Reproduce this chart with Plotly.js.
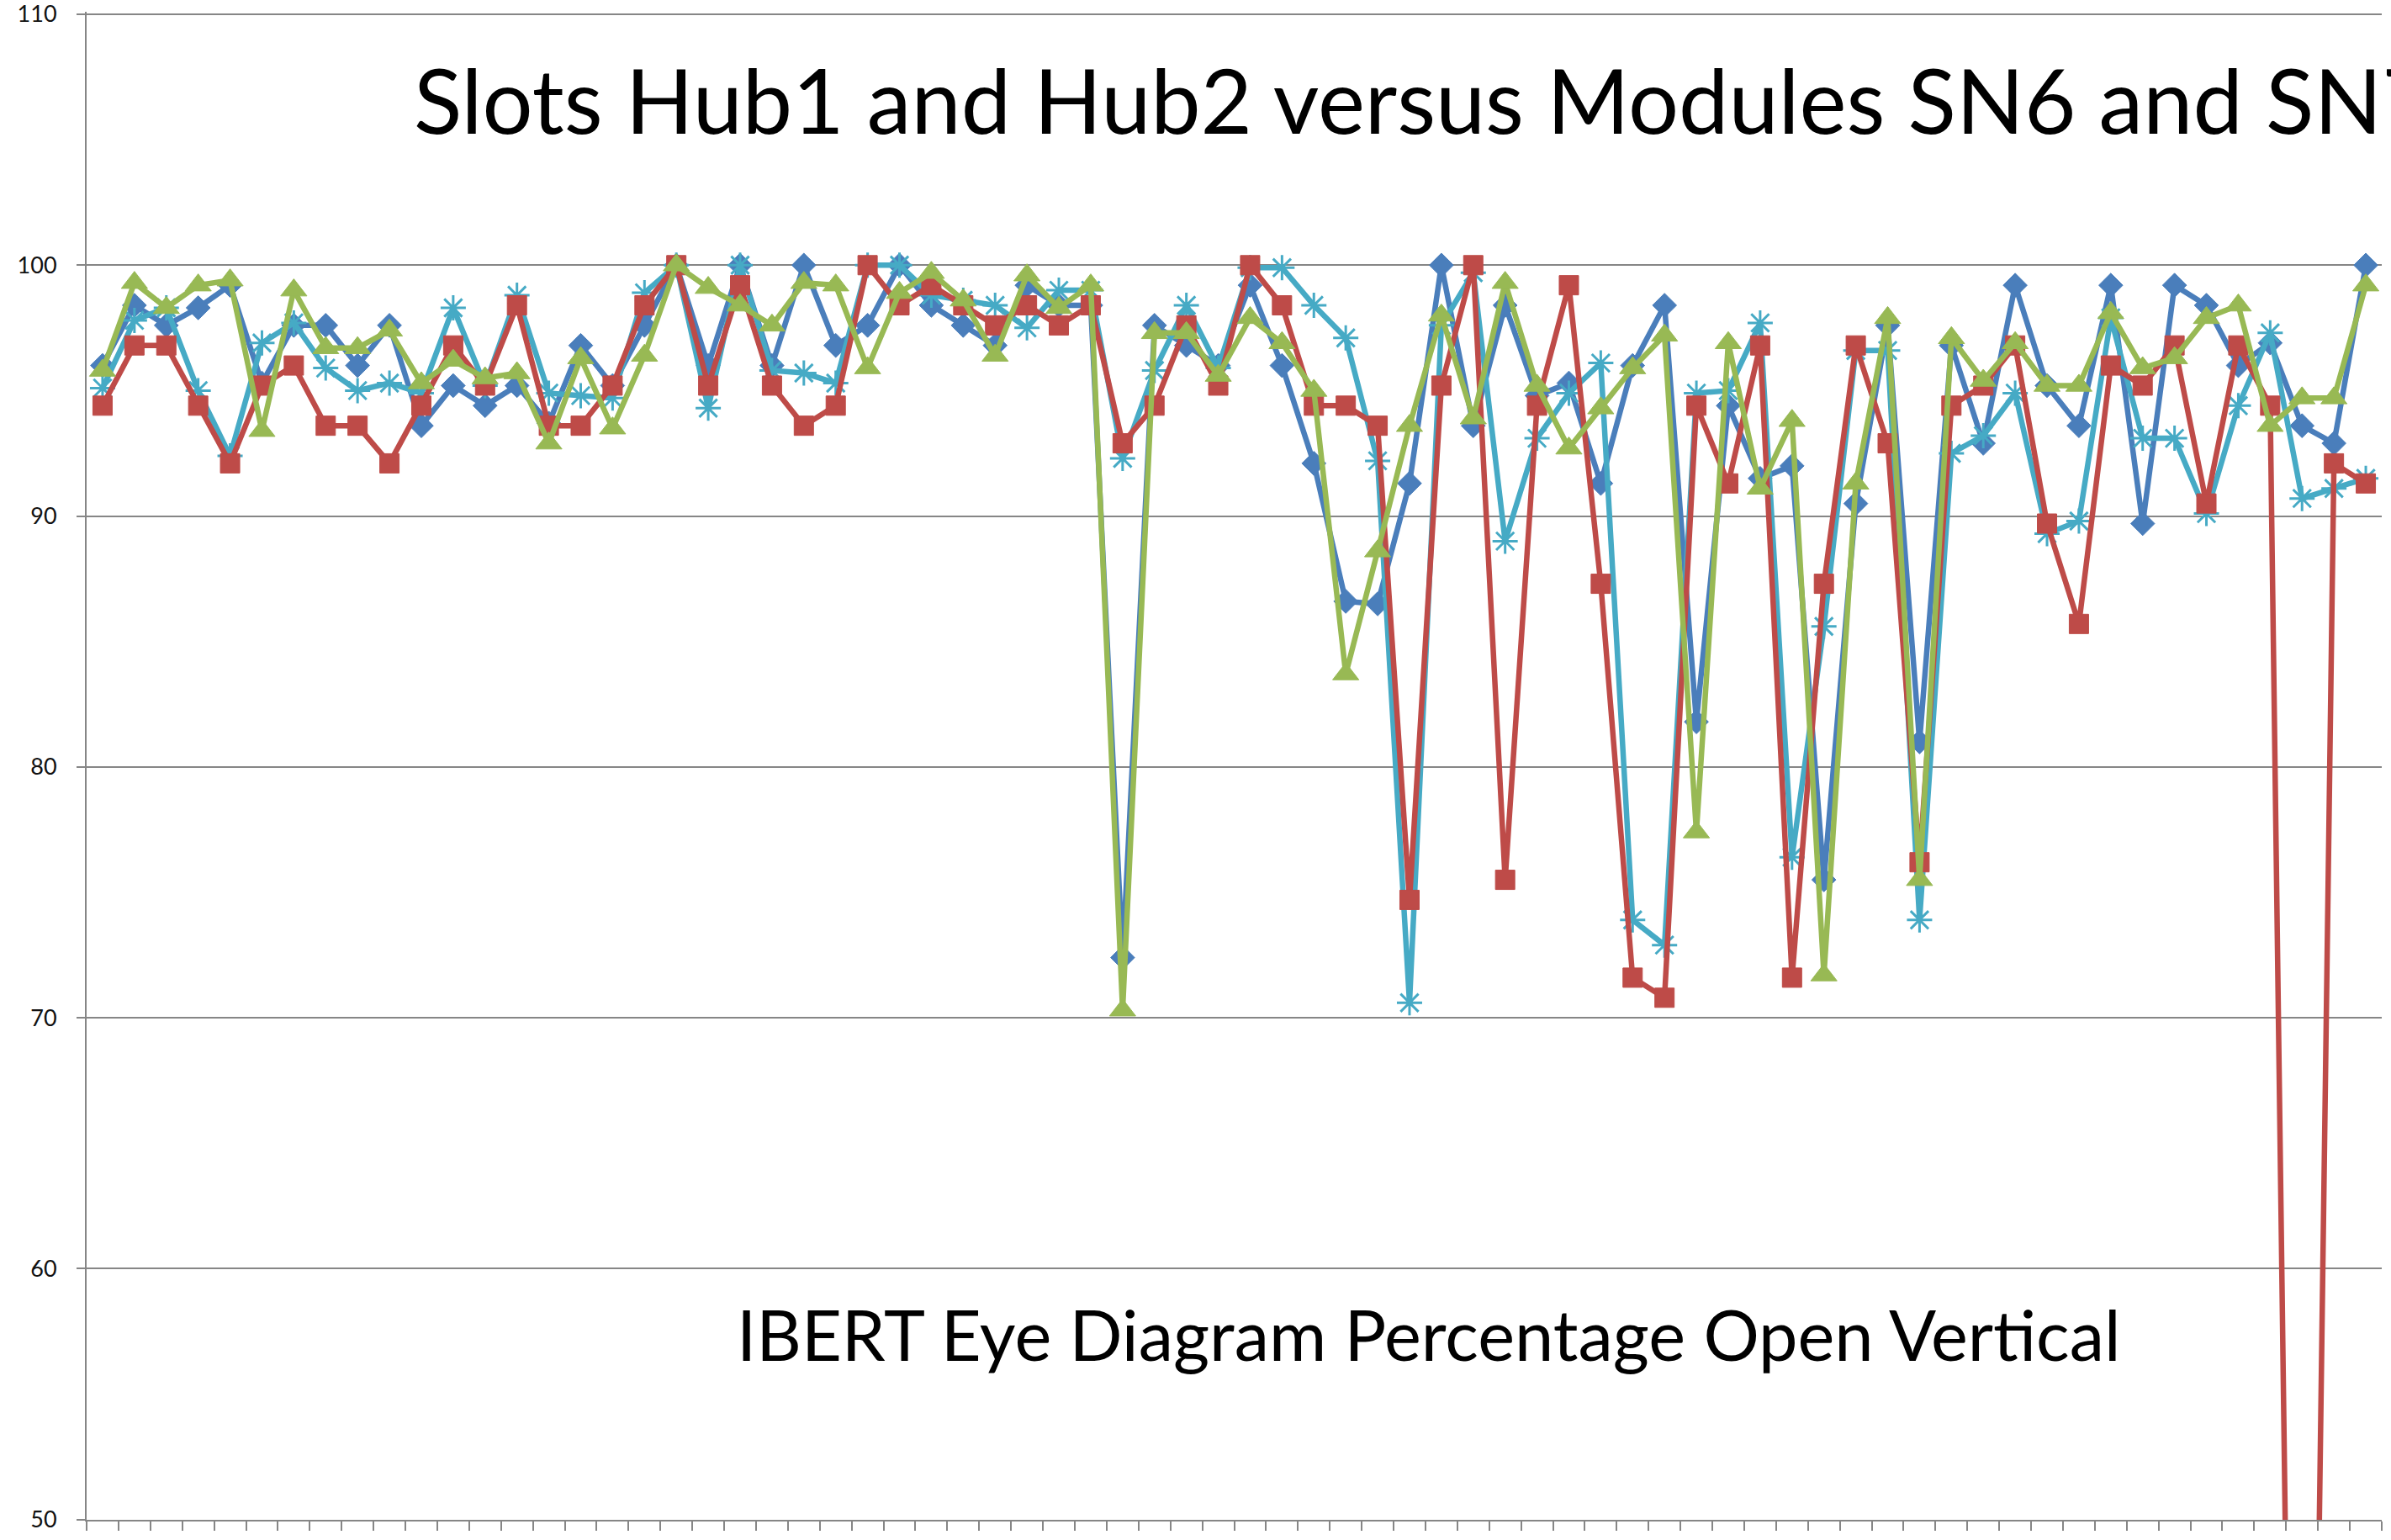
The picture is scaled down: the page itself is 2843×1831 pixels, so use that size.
<!DOCTYPE html>
<html>
<head>
<meta charset="utf-8">
<script src="https://cdn.plot.ly/plotly-3.0.1.min.js"></script>
<style>
  html, body { margin: 0; padding: 0; background: #ffffff; }
  #chart { width: 2843px; height: 1831px; }
</style>
</head>
<body>
<div id="chart"></div>
<script>
// Category (lane) numbers along the x axis (no labels shown in the chart)
const categories = [1,2,3,4,5,6,7,8,9,10,11,12,13,14,15,16,17,18,19,20,21,22,23,24,
  25,26,27,28,29,30,31,32,33,34,35,36,37,38,39,40,41,42,43,44,45,46,47,48,
  49,50,51,52,53,54,55,56,57,58,59,60,61,62,63,64,65,66,67,68,69,70,71,72];

// Series values (percentage open vertical)
const blueSeries = [96.0, 98.4, 97.6, 98.3, 99.2, 95.3, 97.6, 97.6, 96.0, 97.6,
  93.6, 95.2, 94.4, 95.2, 93.7, 96.8, 95.2, 97.6, 100, 96.0,
  100, 96.0, 100, 96.8, 97.6, 100, 98.4, 97.6, 96.8, 99.2,
  98.4, 98.4, 72.4, 97.6, 96.8, 96.0, 99.2, 96.0, 92.1, 86.6,
  86.5, 91.3, 100, 93.6, 98.4, 94.8, 95.3, 91.3, 96.0, 98.4,
  81.8, 94.4, 91.5, 92.0, 75.5, 90.5, 97.6, 81.0, 96.8, 92.9,
  99.2, 95.2, 93.6, 99.2, 89.7, 99.2, 98.4, 96.0, 96.9, 93.6,
  92.9, 100];

const redSeries = [94.4, 96.8, 96.8, 94.4, 92.1, 95.2, 96.0, 93.6, 93.6, 92.1,
  94.4, 96.8, 95.2, 98.4, 93.6, 93.6, 95.2, 98.4, 100, 95.2,
  99.2, 95.2, 93.6, 94.4, 100, 98.4, 99.2, 98.4, 97.6, 98.4,
  97.6, 98.4, 92.9, 94.4, 97.6, 95.2, 100, 98.4, 94.4, 94.4,
  93.6, 74.7, 95.2, 100, 75.5, 94.4, 99.2, 87.3, 71.6, 70.8,
  94.4, 91.3, 96.8, 71.6, 87.3, 96.8, 92.9, 76.2, 94.4, 95.2,
  96.8, 89.7, 85.7, 96.0, 95.2, 96.8, 90.5, 96.8, 94.4, 0,
  92.1, 91.3];

const cyanSeries = [95.1, 97.8, 98.3, 95.0, 92.4, 96.9, 97.7, 95.9, 95.0, 95.3,
  94.9, 98.3, 95.2, 98.8, 94.9, 94.8, 94.7, 98.9, 100, 94.3,
  100, 95.8, 95.7, 95.3, 100, 100, 98.8, 98.6, 98.4, 97.5,
  99.0, 99.0, 92.3, 95.8, 98.4, 95.9, 99.9, 99.9, 98.4, 97.1,
  92.2, 70.6, 97.6, 99.7, 89.0, 93.1, 94.9, 96.1, 73.9, 72.9,
  94.9, 95.0, 97.7, 76.4, 85.6, 96.6, 96.6, 73.9, 92.5, 93.2,
  94.9, 89.3, 89.8, 97.9, 93.1, 93.1, 90.1, 94.4, 97.3, 90.7,
  91.1, 91.5];

const greenSeries = [95.8, 99.3, 98.3, 99.2, 99.4, 93.4, 99.0, 96.7, 96.7, 97.4,
  95.3, 96.2, 95.5, 95.7, 92.9, 96.3, 93.5, 96.4, 100, 99.1,
  98.4, 97.6, 99.3, 99.2, 95.9, 98.9, 99.7, 98.6, 96.4, 99.6,
  98.3, 99.2, 70.3, 97.3, 97.3, 95.6, 97.9, 96.9, 95.0, 83.7,
  88.6, 93.6, 98.0, 93.9, 99.3, 95.2, 92.7, 94.3, 95.9, 97.2,
  77.4, 96.9, 91.1, 93.8, 71.7, 91.3, 97.9, 75.5, 97.1, 95.4,
  96.9, 95.2, 95.2, 98.1, 95.9, 96.3, 97.9, 98.4, 93.6, 94.7,
  94.7, 99.2];

const yTickValues = [50, 60, 70, 80, 90, 100, 110];
const yTickLabels = ["50", "60", "70", "80", "90", "100", "110"];

const titleText = "Slots Hub1 and Hub2 versus Modules SN6 and SN7";
const subText = "IBERT Eye Diagram Percentage Open Vertical";

const C_BLUE = "#4A7EBB", C_RED = "#BE4B48", C_GREEN = "#98B954", C_CYAN = "#46AAC5";
const GRID = "#868686";

function series(y, color, symbol, size, open) {
  return {
    x: categories, y: y, type: "scatter", mode: "lines+markers",
    line: { color: color, width: 6.5 },
    marker: open
      ? { symbol: symbol, size: size, color: color, line: { color: color, width: 3 } }
      : { symbol: symbol, size: size, color: color, line: { color: color, width: 1 } },
    hoverinfo: "x+y", showlegend: false
  };
}

const traces = [
  series(blueSeries, C_BLUE, "diamond", 22, false),
  series(cyanSeries, C_CYAN, "asterisk-open", 25, true),
  series(redSeries, C_RED, "square", 23, false),
  series(greenSeries, C_GREEN, "triangle-up", 27, false)
];

const layout = {
  width: 2843, height: 1831,
  margin: { l: 103, r: 11, t: 14, b: 24, pad: 0 },
  paper_bgcolor: "#ffffff", plot_bgcolor: "#ffffff",
  showlegend: false,
  xaxis: {
    range: [0.5, 72.5], tick0: 0.5, dtick: 1,
    ticks: "outside", ticklen: 11, tickwidth: 2, tickcolor: GRID,
    showticklabels: false, showgrid: false, zeroline: false,
    showline: true, linecolor: GRID, linewidth: 2
  },
  yaxis: {
    range: [49.99, 110.1], tickmode: "array", tickvals: yTickValues, ticktext: yTickLabels,
    ticks: "outside", ticklen: 10, tickwidth: 2, tickcolor: GRID,
    showgrid: true, gridcolor: GRID, gridwidth: 2, zeroline: false,
    showline: true, linecolor: GRID, linewidth: 2,
    tickfont: { family: "Lato, 'Open Sans', sans-serif", size: 27, color: "#111111" },
    ticklabelstandoff: 18, ticklabeloverflow: "allow"
  },
  annotations: [
    { text: titleText, xref: "x", yref: "y", x: 10.72, y: 106.6,
      xanchor: "left", yanchor: "middle", showarrow: false,
      font: { family: "Lato, 'Open Sans', sans-serif", size: 106, color: "#000000" } },
    { text: subText, xref: "x", yref: "y", x: 20.83, y: 57.4,
      xanchor: "left", yanchor: "middle", showarrow: false,
      font: { family: "Lato, 'Open Sans', sans-serif", size: 83, color: "#000000" } }
  ]
};

Plotly.newPlot("chart", traces, layout, { displayModeBar: false, staticPlot: true });
</script>
</body>
</html>
